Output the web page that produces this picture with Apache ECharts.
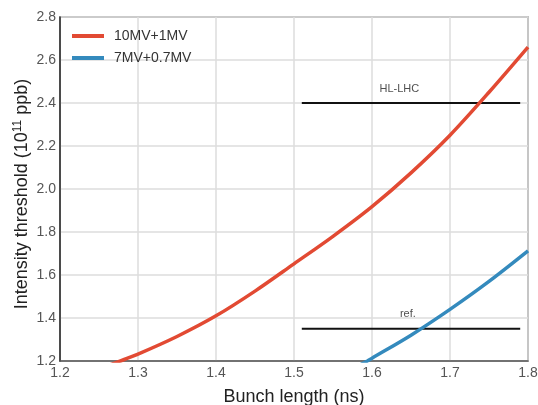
<!DOCTYPE html>
<html>
<head>
<meta charset="utf-8">
<script src="https://cdn.jsdelivr.net/npm/echarts@6/dist/echarts.min.js"></script>
<style>
html,body{margin:0;padding:0;background:#fff;}
#chart{width:538px;height:405px;}
</style>
</head>
<body>
<div id="chart"></div>
<script>
// Data
const redX = [1.25, 1.275, 1.30, 1.35, 1.40, 1.45, 1.50, 1.55, 1.60, 1.65, 1.70, 1.75, 1.80];
const redY = [1.163, 1.197, 1.232, 1.314, 1.41, 1.525, 1.652, 1.78, 1.918, 2.075, 2.25, 2.45, 2.66];
const blueX = [1.55, 1.594, 1.60, 1.65, 1.70, 1.75, 1.80];
const blueY = [1.115, 1.20, 1.213, 1.32, 1.44, 1.57, 1.712];
const seriesNames = ['10MV+1MV', '7MV+0.7MV'];
const hlX = [1.51, 1.79];
const hlY = 2.4;
const refX = [1.51, 1.79];
const refY = 1.35;
const annX = [1.635, 1.646];
const annY = [2.465, 1.419];
const annText = ['HL-LHC', 'ref.'];
const xTicks = [1.2, 1.3, 1.4, 1.5, 1.6, 1.7, 1.8];
const yTicks = [1.2, 1.4, 1.6, 1.8, 2.0, 2.2, 2.4, 2.6, 2.8];

const FONT = '"Liberation Sans", Arial, sans-serif';
const chart = echarts.init(document.getElementById('chart'));
const zip = (xs, ys) => xs.map((x, i) => [x, ys[i]]);

chart.setOption({
  animation: false,
  backgroundColor: '#fff',
  textStyle: { fontFamily: FONT },
  grid: { left: 60, right: 10, top: 17, bottom: 44, containLabel: false, outerBoundsMode: 'none',
          show: true, borderColor: '#333', borderWidth: 1.2, backgroundColor: '#fff' },
  legend: {
    orient: 'vertical', left: 67, top: 23,
    itemWidth: 32, itemHeight: 4, itemGap: 6,
    icon: 'rect',
    data: seriesNames,
    textStyle: { fontFamily: FONT, fontSize: 14, color: '#333', lineHeight: 16, padding: [0, 0, 0, 5] }
  },
  xAxis: {
    type: 'value', min: xTicks[0], max: xTicks[xTicks.length - 1], interval: 0.1,
    name: 'Bunch length (ns)', nameLocation: 'middle', nameGap: 27, nameMoveOverlap: false,
    nameTextStyle: { fontFamily: FONT, fontSize: 18, color: '#222' },
    axisLine: { show: true, lineStyle: { color: '#555', width: 1.5 } },
    axisTick: { show: false },
    axisLabel: { fontFamily: FONT, fontSize: 14, color: '#555', margin: 5, formatter: v => v.toFixed(1) },
    splitLine: { show: true, lineStyle: { color: '#dcdcdc', width: 1.5 } }
  },
  yAxis: {
    type: 'value', min: yTicks[0], max: yTicks[yTicks.length - 1], interval: 0.2,
    name: '{t|Intensity threshold (10}{s|11}{t| ppb)}', nameLocation: 'middle', nameGap: 28, nameMoveOverlap: false,
    nameTextStyle: {
      fontFamily: FONT, color: '#222', padding: [0, 10, 0, 0],
      rich: {
        t: { fontFamily: FONT, fontSize: 18, color: '#222', lineHeight: 20 },
        s: { fontFamily: FONT, fontSize: 12, color: '#222', lineHeight: 12, verticalAlign: 'top' }
      }
    },
    axisLine: { show: true, lineStyle: { color: '#222', width: 1.5 } },
    axisTick: { show: false },
    axisLabel: { fontFamily: FONT, fontSize: 14, color: '#555', margin: 4, formatter: v => v.toFixed(1) },
    splitLine: { show: true, lineStyle: { color: '#dcdcdc', width: 1.5 } }
  },
  series: [
    {
      name: 'HL-LHC', type: 'line', data: zip(hlX, [hlY, hlY]), showSymbol: false, symbol: 'none',
      lineStyle: { color: '#111', width: 2 }, z: 2, silent: true
    },
    {
      name: 'ref.', type: 'line', data: zip(refX, [refY, refY]), showSymbol: false, symbol: 'none',
      lineStyle: { color: '#111', width: 2 }, z: 2, silent: true
    },
    {
      name: 'labels', type: 'scatter', symbolSize: 0, z: 3, silent: true,
      data: annX.map((x, i) => [x, annY[i], annText[i]]),
      label: { show: true, position: 'inside', formatter: p => p.value[2], fontFamily: FONT, fontSize: 11, color: '#222' }
    },
    {
      name: seriesNames[0], type: 'line', data: zip(redX, redY), smooth: 0.3, symbol: 'none', showSymbol: false,
      clip: true, lineStyle: { color: '#E24A33', width: 3.5 }, itemStyle: { color: '#E24A33' }, z: 5
    },
    {
      name: seriesNames[1], type: 'line', data: zip(blueX, blueY), smooth: 0.3, symbol: 'none', showSymbol: false,
      clip: true, lineStyle: { color: '#348ABD', width: 3.5 }, itemStyle: { color: '#348ABD' }, z: 5
    }
  ]
});
</script>
</body>
</html>
